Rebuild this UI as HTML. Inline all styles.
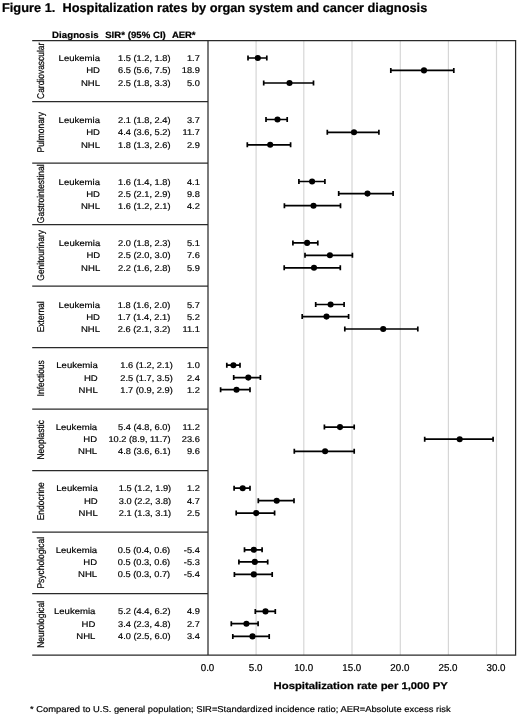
<!DOCTYPE html>
<html lang="en"><head><meta charset="utf-8"><title>Figure 1. Hospitalization rates by organ system and cancer diagnosis</title>
<style>html,body{margin:0;padding:0;background:#fff}svg{display:block}text{text-rendering:geometricPrecision;font-family:"Liberation Sans",Arial,Helvetica,sans-serif;fill:#000;stroke:#000;stroke-width:.2px}.b{font-weight:bold;stroke:#111;stroke-width:.25px}</style></head><body>
<svg width="520" height="716" viewBox="0 0 520 716">
<rect width="520" height="716" fill="#fff"/>
<line x1="256.1" y1="40.6" x2="256.1" y2="655.0" stroke="#d6d6d6" stroke-width="1.2"/>
<line x1="303.8" y1="40.6" x2="303.8" y2="655.0" stroke="#d6d6d6" stroke-width="1.2"/>
<line x1="352.0" y1="40.6" x2="352.0" y2="655.0" stroke="#d6d6d6" stroke-width="1.2"/>
<line x1="400.3" y1="40.6" x2="400.3" y2="655.0" stroke="#d6d6d6" stroke-width="1.2"/>
<line x1="448.4" y1="40.6" x2="448.4" y2="655.0" stroke="#d6d6d6" stroke-width="1.2"/>
<line x1="496.5" y1="40.6" x2="496.5" y2="655.0" stroke="#d6d6d6" stroke-width="1.2"/>
<path d="M32.2 40.6H515.6V655.0H32.2" fill="none" stroke="#2a2a2a" stroke-width="1.25"/>
<line x1="208.0" y1="40.6" x2="208.0" y2="655.0" stroke="#2a2a2a" stroke-width="1.25"/>
<line x1="32.2" y1="101.6" x2="208.0" y2="101.6" stroke="#2a2a2a" stroke-width="1.25"/>
<line x1="32.2" y1="163.1" x2="208.0" y2="163.1" stroke="#2a2a2a" stroke-width="1.25"/>
<line x1="32.2" y1="224.6" x2="208.0" y2="224.6" stroke="#2a2a2a" stroke-width="1.25"/>
<line x1="32.2" y1="286.1" x2="208.0" y2="286.1" stroke="#2a2a2a" stroke-width="1.25"/>
<line x1="32.2" y1="347.6" x2="208.0" y2="347.6" stroke="#2a2a2a" stroke-width="1.25"/>
<line x1="32.2" y1="409.0" x2="208.0" y2="409.0" stroke="#2a2a2a" stroke-width="1.25"/>
<line x1="32.2" y1="470.5" x2="208.0" y2="470.5" stroke="#2a2a2a" stroke-width="1.25"/>
<line x1="32.2" y1="532.0" x2="208.0" y2="532.0" stroke="#2a2a2a" stroke-width="1.25"/>
<line x1="32.2" y1="593.5" x2="208.0" y2="593.5" stroke="#2a2a2a" stroke-width="1.25"/>
<text class="b" transform="translate(2.0 12.25) scale(1 0.985)" font-size="12.8" xml:space="preserve">Figure 1.  Hospitalization rates by organ system and cancer diagnosis</text>
<text class="b" transform="translate(52.0 37.7) scale(1 0.95)" font-size="9.6" textLength="46.6" lengthAdjust="spacing">Diagnosis</text>
<text class="b" transform="translate(105.2 37.7) scale(1 0.95)" font-size="9.6" textLength="60.6" lengthAdjust="spacing">SIR* (95% CI)</text>
<text class="b" transform="translate(172.0 37.7) scale(1 0.95)" font-size="9.6" textLength="23.5" lengthAdjust="spacing">AER*</text>
<text transform="translate(43.8 70.8) rotate(-90) scale(0.862 1)" font-size="9.8" text-anchor="middle">Cardiovascular</text>
<text transform="translate(100.0 61.0) scale(1 0.875)" font-size="9.55" text-anchor="end">Leukemia</text>
<text transform="translate(170.5 61.0) scale(1 0.91)" font-size="9.25" text-anchor="end">1.5 (1.2, 1.8)</text>
<text transform="translate(199.8 61.0) scale(1 0.91)" font-size="9.25" text-anchor="end">1.7</text>
<path d="M248.0 58.0H266.8M248.0 55.50V60.50M266.8 55.50V60.50" stroke="#000" stroke-width="1.7" fill="none"/>
<circle cx="257.8" cy="58.0" r="3.05" fill="#000"/>
<text transform="translate(100.0 73.4) scale(1 0.875)" font-size="9.55" text-anchor="end">HD</text>
<text transform="translate(170.5 73.4) scale(1 0.91)" font-size="9.25" text-anchor="end">6.5 (5.6, 7.5)</text>
<text transform="translate(199.8 73.4) scale(1 0.91)" font-size="9.25" text-anchor="end">18.9</text>
<path d="M390.8 70.4H453.8M390.8 67.90V72.90M453.8 67.90V72.90" stroke="#000" stroke-width="1.7" fill="none"/>
<circle cx="424.0" cy="70.4" r="3.05" fill="#000"/>
<text transform="translate(100.0 86.0) scale(1 0.875)" font-size="9.55" text-anchor="end">NHL</text>
<text transform="translate(170.5 86.0) scale(1 0.91)" font-size="9.25" text-anchor="end">2.5 (1.8, 3.3)</text>
<text transform="translate(199.8 86.0) scale(1 0.91)" font-size="9.25" text-anchor="end">5.0</text>
<path d="M263.7 83.0H313.5M263.7 80.50V85.50M313.5 80.50V85.50" stroke="#000" stroke-width="1.7" fill="none"/>
<circle cx="289.5" cy="83.0" r="3.05" fill="#000"/>
<text transform="translate(43.8 132.3) rotate(-90) scale(0.862 1)" font-size="9.8" text-anchor="middle">Pulmonary</text>
<text transform="translate(100.0 122.5) scale(1 0.875)" font-size="9.55" text-anchor="end">Leukemia</text>
<text transform="translate(170.5 122.5) scale(1 0.91)" font-size="9.25" text-anchor="end">2.1 (1.8, 2.4)</text>
<text transform="translate(199.8 122.5) scale(1 0.91)" font-size="9.25" text-anchor="end">3.7</text>
<path d="M266.0 119.5H287.2M266.0 117.00V122.00M287.2 117.00V122.00" stroke="#000" stroke-width="1.7" fill="none"/>
<circle cx="277.5" cy="119.5" r="3.05" fill="#000"/>
<text transform="translate(100.0 135.3) scale(1 0.875)" font-size="9.55" text-anchor="end">HD</text>
<text transform="translate(170.5 135.3) scale(1 0.91)" font-size="9.25" text-anchor="end">4.4 (3.6, 5.2)</text>
<text transform="translate(199.8 135.3) scale(1 0.91)" font-size="9.25" text-anchor="end">11.7</text>
<path d="M327.3 132.3H378.9M327.3 129.80V134.80M378.9 129.80V134.80" stroke="#000" stroke-width="1.7" fill="none"/>
<circle cx="354.0" cy="132.3" r="3.05" fill="#000"/>
<text transform="translate(100.0 147.8) scale(1 0.875)" font-size="9.55" text-anchor="end">NHL</text>
<text transform="translate(170.5 147.8) scale(1 0.91)" font-size="9.25" text-anchor="end">1.8 (1.3, 2.6)</text>
<text transform="translate(199.8 147.8) scale(1 0.91)" font-size="9.25" text-anchor="end">2.9</text>
<path d="M247.3 144.8H290.6M247.3 142.30V147.30M290.6 142.30V147.30" stroke="#000" stroke-width="1.7" fill="none"/>
<circle cx="270.2" cy="144.8" r="3.05" fill="#000"/>
<text transform="translate(43.8 193.8) rotate(-90) scale(0.862 1)" font-size="9.8" text-anchor="middle">Gastrointestinal</text>
<text transform="translate(100.0 184.5) scale(1 0.875)" font-size="9.55" text-anchor="end">Leukemia</text>
<text transform="translate(170.5 184.5) scale(1 0.91)" font-size="9.25" text-anchor="end">1.6 (1.4, 1.8)</text>
<text transform="translate(199.8 184.5) scale(1 0.91)" font-size="9.25" text-anchor="end">4.1</text>
<path d="M298.9 181.5H324.9M298.9 179.00V184.00M324.9 179.00V184.00" stroke="#000" stroke-width="1.7" fill="none"/>
<circle cx="312.1" cy="181.5" r="3.05" fill="#000"/>
<text transform="translate(100.0 196.6) scale(1 0.875)" font-size="9.55" text-anchor="end">HD</text>
<text transform="translate(170.5 196.6) scale(1 0.91)" font-size="9.25" text-anchor="end">2.5 (2.1, 2.9)</text>
<text transform="translate(199.8 196.6) scale(1 0.91)" font-size="9.25" text-anchor="end">9.8</text>
<path d="M338.7 193.6H393.1M338.7 191.10V196.10M393.1 191.10V196.10" stroke="#000" stroke-width="1.7" fill="none"/>
<circle cx="367.5" cy="193.6" r="3.05" fill="#000"/>
<text transform="translate(100.0 208.7) scale(1 0.875)" font-size="9.55" text-anchor="end">NHL</text>
<text transform="translate(170.5 208.7) scale(1 0.91)" font-size="9.25" text-anchor="end">1.6 (1.2, 2.1)</text>
<text transform="translate(199.8 208.7) scale(1 0.91)" font-size="9.25" text-anchor="end">4.2</text>
<path d="M284.4 205.7H340.5M284.4 203.20V208.20M340.5 203.20V208.20" stroke="#000" stroke-width="1.7" fill="none"/>
<circle cx="313.5" cy="205.7" r="3.05" fill="#000"/>
<text transform="translate(43.8 255.3) rotate(-90) scale(0.862 1)" font-size="9.8" text-anchor="middle">Genitourinary</text>
<text transform="translate(100.2 245.9) scale(1 0.875)" font-size="9.55" text-anchor="end">Leukemia</text>
<text transform="translate(170.5 245.9) scale(1 0.91)" font-size="9.25" text-anchor="end">2.0 (1.8, 2.3)</text>
<text transform="translate(199.8 245.9) scale(1 0.91)" font-size="9.25" text-anchor="end">5.1</text>
<path d="M292.9 242.9H317.8M292.9 240.40V245.40M317.8 240.40V245.40" stroke="#000" stroke-width="1.7" fill="none"/>
<circle cx="307.1" cy="242.9" r="3.05" fill="#000"/>
<text transform="translate(100.2 258.3) scale(1 0.875)" font-size="9.55" text-anchor="end">HD</text>
<text transform="translate(170.5 258.3) scale(1 0.91)" font-size="9.25" text-anchor="end">2.5 (2.0, 3.0)</text>
<text transform="translate(199.8 258.3) scale(1 0.91)" font-size="9.25" text-anchor="end">7.6</text>
<path d="M305.0 255.3H352.4M305.0 252.80V257.80M352.4 252.80V257.80" stroke="#000" stroke-width="1.7" fill="none"/>
<circle cx="329.9" cy="255.3" r="3.05" fill="#000"/>
<text transform="translate(100.2 270.8) scale(1 0.875)" font-size="9.55" text-anchor="end">NHL</text>
<text transform="translate(170.5 270.8) scale(1 0.91)" font-size="9.25" text-anchor="end">2.2 (1.6, 2.8)</text>
<text transform="translate(199.8 270.8) scale(1 0.91)" font-size="9.25" text-anchor="end">5.9</text>
<path d="M284.2 267.8H340.3M284.2 265.30V270.30M340.3 265.30V270.30" stroke="#000" stroke-width="1.7" fill="none"/>
<circle cx="314.0" cy="267.8" r="3.05" fill="#000"/>
<text transform="translate(43.8 316.8) rotate(-90) scale(0.862 1)" font-size="9.8" text-anchor="middle">External</text>
<text transform="translate(100.0 307.5) scale(1 0.875)" font-size="9.55" text-anchor="end">Leukemia</text>
<text transform="translate(170.3 307.5) scale(1 0.91)" font-size="9.25" text-anchor="end">1.8 (1.6, 2.0)</text>
<text transform="translate(199.8 307.5) scale(1 0.91)" font-size="9.25" text-anchor="end">5.7</text>
<path d="M315.7 304.5H344.1M315.7 302.00V307.00M344.1 302.00V307.00" stroke="#000" stroke-width="1.7" fill="none"/>
<circle cx="330.6" cy="304.5" r="3.05" fill="#000"/>
<text transform="translate(100.0 319.6) scale(1 0.875)" font-size="9.55" text-anchor="end">HD</text>
<text transform="translate(170.3 319.6) scale(1 0.91)" font-size="9.25" text-anchor="end">1.7 (1.4, 2.1)</text>
<text transform="translate(199.8 319.6) scale(1 0.91)" font-size="9.25" text-anchor="end">5.2</text>
<path d="M302.2 316.6H348.6M302.2 314.10V319.10M348.6 314.10V319.10" stroke="#000" stroke-width="1.7" fill="none"/>
<circle cx="326.5" cy="316.6" r="3.05" fill="#000"/>
<text transform="translate(100.0 332.0) scale(1 0.875)" font-size="9.55" text-anchor="end">NHL</text>
<text transform="translate(170.3 332.0) scale(1 0.91)" font-size="9.25" text-anchor="end">2.6 (2.1, 3.2)</text>
<text transform="translate(199.8 332.0) scale(1 0.91)" font-size="9.25" text-anchor="end">11.1</text>
<path d="M344.8 329.0H417.8M344.8 326.50V331.50M417.8 326.50V331.50" stroke="#000" stroke-width="1.7" fill="none"/>
<circle cx="383.2" cy="329.0" r="3.05" fill="#000"/>
<text transform="translate(43.8 378.3) rotate(-90) scale(0.862 1)" font-size="9.8" text-anchor="middle">Infectious</text>
<text transform="translate(97.7 368.2) scale(1 0.875)" font-size="9.55" text-anchor="end">Leukemia</text>
<text transform="translate(172.8 368.2) scale(1 0.91)" font-size="9.25" text-anchor="end">1.6 (1.2, 2.1)</text>
<text transform="translate(199.8 368.2) scale(1 0.91)" font-size="9.25" text-anchor="end">1.0</text>
<path d="M226.8 365.2H240.0M226.8 362.70V367.70M240.0 362.70V367.70" stroke="#000" stroke-width="1.7" fill="none"/>
<circle cx="233.4" cy="365.2" r="3.05" fill="#000"/>
<text transform="translate(97.7 380.6) scale(1 0.875)" font-size="9.55" text-anchor="end">HD</text>
<text transform="translate(172.8 380.6) scale(1 0.91)" font-size="9.25" text-anchor="end">2.5 (1.7, 3.5)</text>
<text transform="translate(199.8 380.6) scale(1 0.91)" font-size="9.25" text-anchor="end">2.4</text>
<path d="M233.7 377.6H260.4M233.7 375.10V380.10M260.4 375.10V380.10" stroke="#000" stroke-width="1.7" fill="none"/>
<circle cx="248.3" cy="377.6" r="3.05" fill="#000"/>
<text transform="translate(97.7 392.7) scale(1 0.875)" font-size="9.55" text-anchor="end">NHL</text>
<text transform="translate(172.8 392.7) scale(1 0.91)" font-size="9.25" text-anchor="end">1.7 (0.9, 2.9)</text>
<text transform="translate(199.8 392.7) scale(1 0.91)" font-size="9.25" text-anchor="end">1.2</text>
<path d="M220.6 389.7H250.0M220.6 387.20V392.20M250.0 387.20V392.20" stroke="#000" stroke-width="1.7" fill="none"/>
<circle cx="236.5" cy="389.7" r="3.05" fill="#000"/>
<text transform="translate(43.8 439.8) rotate(-90) scale(0.862 1)" font-size="9.8" text-anchor="middle">Neoplastic</text>
<text transform="translate(97.1 430.1) scale(1 0.875)" font-size="9.55" text-anchor="end">Leukemia</text>
<text transform="translate(170.5 430.1) scale(1 0.91)" font-size="9.25" text-anchor="end">5.4 (4.8, 6.0)</text>
<text transform="translate(199.8 430.1) scale(1 0.91)" font-size="9.25" text-anchor="end">11.2</text>
<path d="M324.4 427.1H354.2M324.4 424.60V429.60M354.2 424.60V429.60" stroke="#000" stroke-width="1.7" fill="none"/>
<circle cx="340.0" cy="427.1" r="3.05" fill="#000"/>
<text transform="translate(97.1 442.2) scale(1 0.875)" font-size="9.55" text-anchor="end">HD</text>
<text transform="translate(170.5 442.2) scale(1 0.91)" font-size="9.25" text-anchor="end">10.2 (8.9, 11.7)</text>
<text transform="translate(199.8 442.2) scale(1 0.91)" font-size="9.25" text-anchor="end">23.6</text>
<path d="M424.7 439.2H493.1M424.7 436.70V441.70M493.1 436.70V441.70" stroke="#000" stroke-width="1.7" fill="none"/>
<circle cx="459.7" cy="439.2" r="3.05" fill="#000"/>
<text transform="translate(97.1 454.3) scale(1 0.875)" font-size="9.55" text-anchor="end">NHL</text>
<text transform="translate(170.5 454.3) scale(1 0.91)" font-size="9.25" text-anchor="end">4.8 (3.6, 6.1)</text>
<text transform="translate(199.8 454.3) scale(1 0.91)" font-size="9.25" text-anchor="end">9.6</text>
<path d="M294.3 451.3H354.2M294.3 448.80V453.80M354.2 448.80V453.80" stroke="#000" stroke-width="1.7" fill="none"/>
<circle cx="325.1" cy="451.3" r="3.05" fill="#000"/>
<text transform="translate(43.8 501.3) rotate(-90) scale(0.862 1)" font-size="9.8" text-anchor="middle">Endocrine</text>
<text transform="translate(97.7 491.2) scale(1 0.875)" font-size="9.55" text-anchor="end">Leukemia</text>
<text transform="translate(171.2 491.2) scale(1 0.91)" font-size="9.25" text-anchor="end">1.5 (1.2, 1.9)</text>
<text transform="translate(199.8 491.2) scale(1 0.91)" font-size="9.25" text-anchor="end">1.2</text>
<path d="M234.1 488.2H250.0M234.1 485.70V490.70M250.0 485.70V490.70" stroke="#000" stroke-width="1.7" fill="none"/>
<circle cx="242.7" cy="488.2" r="3.05" fill="#000"/>
<text transform="translate(97.7 503.7) scale(1 0.875)" font-size="9.55" text-anchor="end">HD</text>
<text transform="translate(171.2 503.7) scale(1 0.91)" font-size="9.25" text-anchor="end">3.0 (2.2, 3.8)</text>
<text transform="translate(199.8 503.7) scale(1 0.91)" font-size="9.25" text-anchor="end">4.7</text>
<path d="M258.3 500.7H294.0M258.3 498.20V503.20M294.0 498.20V503.20" stroke="#000" stroke-width="1.7" fill="none"/>
<circle cx="276.7" cy="500.7" r="3.05" fill="#000"/>
<text transform="translate(97.7 516.1) scale(1 0.875)" font-size="9.55" text-anchor="end">NHL</text>
<text transform="translate(171.2 516.1) scale(1 0.91)" font-size="9.25" text-anchor="end">2.1 (1.3, 3.1)</text>
<text transform="translate(199.8 516.1) scale(1 0.91)" font-size="9.25" text-anchor="end">2.5</text>
<path d="M236.2 513.1H274.6M236.2 510.60V515.60M274.6 510.60V515.60" stroke="#000" stroke-width="1.7" fill="none"/>
<circle cx="256.2" cy="513.1" r="3.05" fill="#000"/>
<text transform="translate(43.8 562.8) rotate(-90) scale(0.862 1)" font-size="9.8" text-anchor="middle">Psychological</text>
<text transform="translate(97.1 552.8) scale(1 0.875)" font-size="9.55" text-anchor="end">Leukemia</text>
<text transform="translate(170.2 552.8) scale(1 0.91)" font-size="9.25" text-anchor="end">0.5 (0.4, 0.6)</text>
<text transform="translate(199.8 552.8) scale(1 0.91)" font-size="9.25" text-anchor="end">-5.4</text>
<path d="M244.5 549.8H262.1M244.5 547.30V552.30M262.1 547.30V552.30" stroke="#000" stroke-width="1.7" fill="none"/>
<circle cx="253.8" cy="549.8" r="3.05" fill="#000"/>
<text transform="translate(97.1 564.9) scale(1 0.875)" font-size="9.55" text-anchor="end">HD</text>
<text transform="translate(170.2 564.9) scale(1 0.91)" font-size="9.25" text-anchor="end">0.5 (0.3, 0.6)</text>
<text transform="translate(199.8 564.9) scale(1 0.91)" font-size="9.25" text-anchor="end">-5.3</text>
<path d="M238.9 561.9H267.7M238.9 559.40V564.40M267.7 559.40V564.40" stroke="#000" stroke-width="1.7" fill="none"/>
<circle cx="254.8" cy="561.9" r="3.05" fill="#000"/>
<text transform="translate(97.1 577.4) scale(1 0.875)" font-size="9.55" text-anchor="end">NHL</text>
<text transform="translate(170.2 577.4) scale(1 0.91)" font-size="9.25" text-anchor="end">0.5 (0.3, 0.7)</text>
<text transform="translate(199.8 577.4) scale(1 0.91)" font-size="9.25" text-anchor="end">-5.4</text>
<path d="M234.4 574.4H272.2M234.4 571.90V576.90M272.2 571.90V576.90" stroke="#000" stroke-width="1.7" fill="none"/>
<circle cx="253.8" cy="574.4" r="3.05" fill="#000"/>
<text transform="translate(43.8 624.3) rotate(-90) scale(0.862 1)" font-size="9.8" text-anchor="middle">Neurological</text>
<text transform="translate(95.4 614.4) scale(1 0.875)" font-size="9.55" text-anchor="end">Leukemia</text>
<text transform="translate(170.5 614.4) scale(1 0.91)" font-size="9.25" text-anchor="end">5.2 (4.4, 6.2)</text>
<text transform="translate(199.8 614.4) scale(1 0.91)" font-size="9.25" text-anchor="end">4.9</text>
<path d="M255.3 611.4H275.3M255.3 608.90V613.90M275.3 608.90V613.90" stroke="#000" stroke-width="1.7" fill="none"/>
<circle cx="265.5" cy="611.4" r="3.05" fill="#000"/>
<text transform="translate(95.4 626.7) scale(1 0.875)" font-size="9.55" text-anchor="end">HD</text>
<text transform="translate(170.5 626.7) scale(1 0.91)" font-size="9.25" text-anchor="end">3.4 (2.3, 4.8)</text>
<text transform="translate(199.8 626.7) scale(1 0.91)" font-size="9.25" text-anchor="end">2.7</text>
<path d="M231.3 623.7H258.1M231.3 621.20V626.20M258.1 621.20V626.20" stroke="#000" stroke-width="1.7" fill="none"/>
<circle cx="246.4" cy="623.7" r="3.05" fill="#000"/>
<text transform="translate(95.4 639.4) scale(1 0.875)" font-size="9.55" text-anchor="end">NHL</text>
<text transform="translate(170.5 639.4) scale(1 0.91)" font-size="9.25" text-anchor="end">4.0 (2.5, 6.0)</text>
<text transform="translate(199.8 639.4) scale(1 0.91)" font-size="9.25" text-anchor="end">3.4</text>
<path d="M232.8 636.4H269.2M232.8 633.90V638.90M269.2 633.90V638.90" stroke="#000" stroke-width="1.7" fill="none"/>
<circle cx="252.5" cy="636.4" r="3.05" fill="#000"/>
<text transform="translate(207.5 671.3) scale(1.03 1.05)" font-size="9.5" text-anchor="middle">0.0</text>
<text transform="translate(255.6 671.3) scale(1.03 1.05)" font-size="9.5" text-anchor="middle">5.0</text>
<text transform="translate(303.7 671.3) scale(1.03 1.05)" font-size="9.5" text-anchor="middle">10.0</text>
<text transform="translate(351.8 671.3) scale(1.03 1.05)" font-size="9.5" text-anchor="middle">15.0</text>
<text transform="translate(399.9 671.3) scale(1.03 1.05)" font-size="9.5" text-anchor="middle">20.0</text>
<text transform="translate(448.0 671.3) scale(1.03 1.05)" font-size="9.5" text-anchor="middle">25.0</text>
<text transform="translate(496.0 671.3) scale(1.03 1.05)" font-size="9.5" text-anchor="middle">30.0</text>
<text class="b" transform="translate(273.6 688.7)" font-size="9.8" textLength="174.2" lengthAdjust="spacingAndGlyphs">Hospitalization rate per 1,000 PY</text>
<text transform="translate(30 711.8) scale(1 0.92)" font-size="9.3" textLength="420.6" lengthAdjust="spacingAndGlyphs">* Compared to U.S. general population; SIR=Standardized incidence ratio; AER=Absolute excess risk</text>
</svg></body></html>
